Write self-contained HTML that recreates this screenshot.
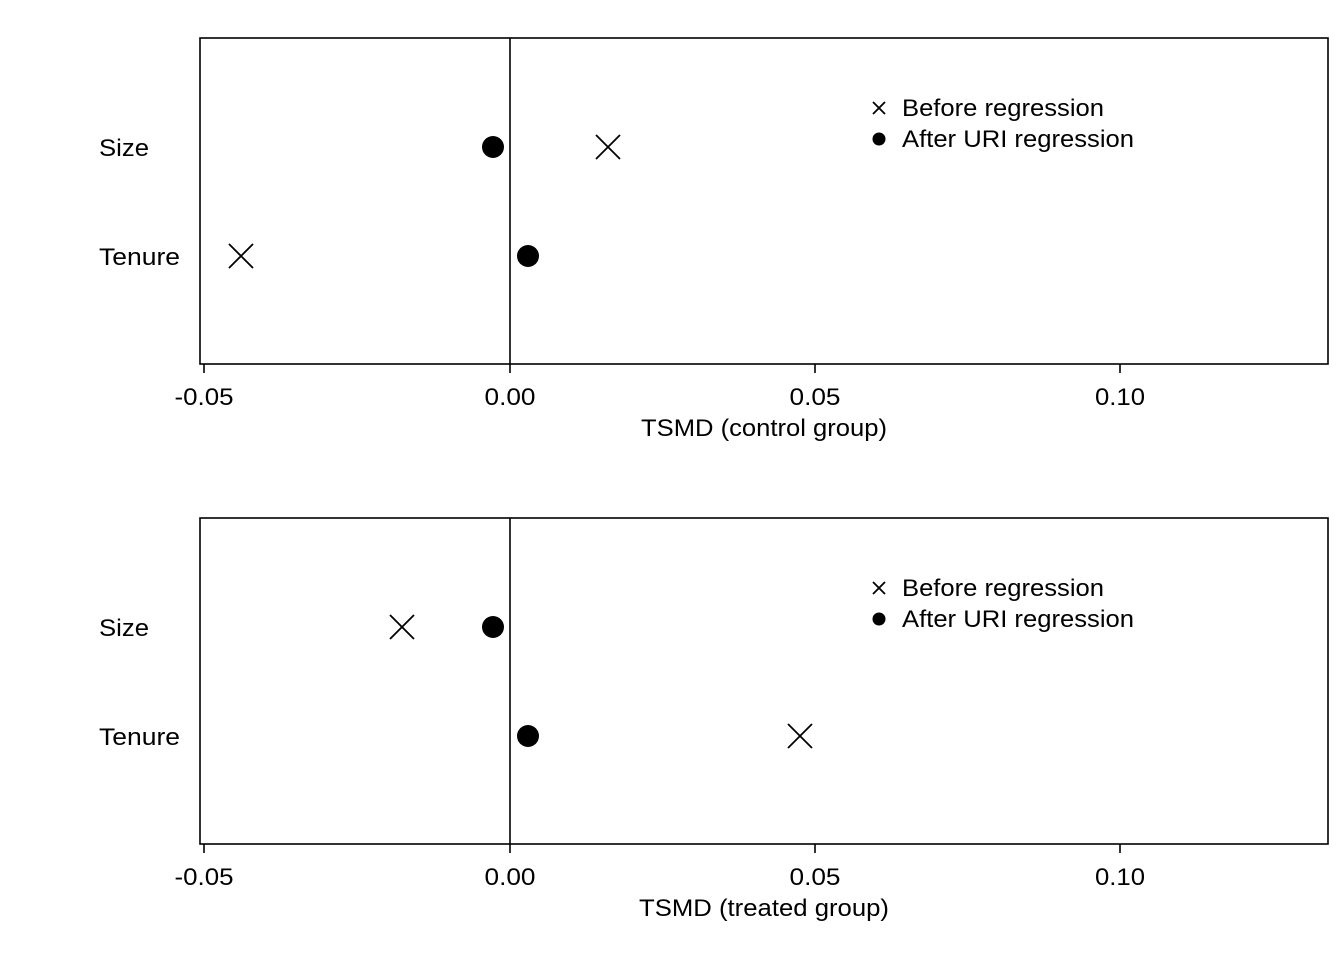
<!DOCTYPE html>
<html><head><style>body{margin:0;background:#fff}</style></head><body>
<svg width="1344" height="960" xmlns="http://www.w3.org/2000/svg" font-family="Liberation Sans, sans-serif" font-size="24" fill="#000">
<defs>
<g id="bx"><path d="M-12,-12L12,12M-12,12L12,-12" stroke="#000" stroke-width="1.8"/></g>
<g id="sx"><path d="M-6,-6L6,6M-6,6L6,-6" stroke="#000" stroke-width="1.8"/></g>
</defs>
<g id="p1">
<rect x="200" y="38" width="1128" height="326" fill="none" stroke="#000" stroke-width="1.6"/>
<line x1="510" y1="38" x2="510" y2="364" stroke="#000" stroke-width="1.6"/>
<g stroke="#000" stroke-width="1.6"><line x1="204" y1="364" x2="204" y2="373"/><line x1="510" y1="364" x2="510" y2="373"/><line x1="815" y1="364" x2="815" y2="373"/><line x1="1120" y1="364" x2="1120" y2="373"/></g>
<g text-anchor="middle" lengthAdjust="spacingAndGlyphs"><text x="204" y="405" textLength="59" lengthAdjust="spacingAndGlyphs">-0.05</text><text x="510" y="405" textLength="51" lengthAdjust="spacingAndGlyphs">0.00</text><text x="815" y="405" textLength="51" lengthAdjust="spacingAndGlyphs">0.05</text><text x="1120" y="405" textLength="50" lengthAdjust="spacingAndGlyphs">0.10</text></g>
<text x="99" y="156" textLength="50" lengthAdjust="spacingAndGlyphs">Size</text><text x="99" y="265" textLength="81" lengthAdjust="spacingAndGlyphs">Tenure</text>
<use href="#sx" x="879" y="108"/><circle cx="879" cy="139" r="6.5"/>
<text x="902" y="116" textLength="202" lengthAdjust="spacingAndGlyphs">Before regression</text><text x="902" y="147" textLength="232" lengthAdjust="spacingAndGlyphs">After URI regression</text>
</g>
<text x="641" y="436" textLength="246" lengthAdjust="spacingAndGlyphs">TSMD (control group)</text>
<circle cx="493" cy="147" r="11"/><use href="#bx" x="608" y="147"/>
<use href="#bx" x="241" y="256"/><circle cx="528" cy="256" r="11"/>
<use href="#p1" y="480"/>
<text x="639" y="916" textLength="250" lengthAdjust="spacingAndGlyphs">TSMD (treated group)</text>
<use href="#bx" x="402" y="627"/><circle cx="493" cy="627" r="11"/>
<circle cx="528" cy="736" r="11"/><use href="#bx" x="800" y="736"/>
</svg>
</body></html>
